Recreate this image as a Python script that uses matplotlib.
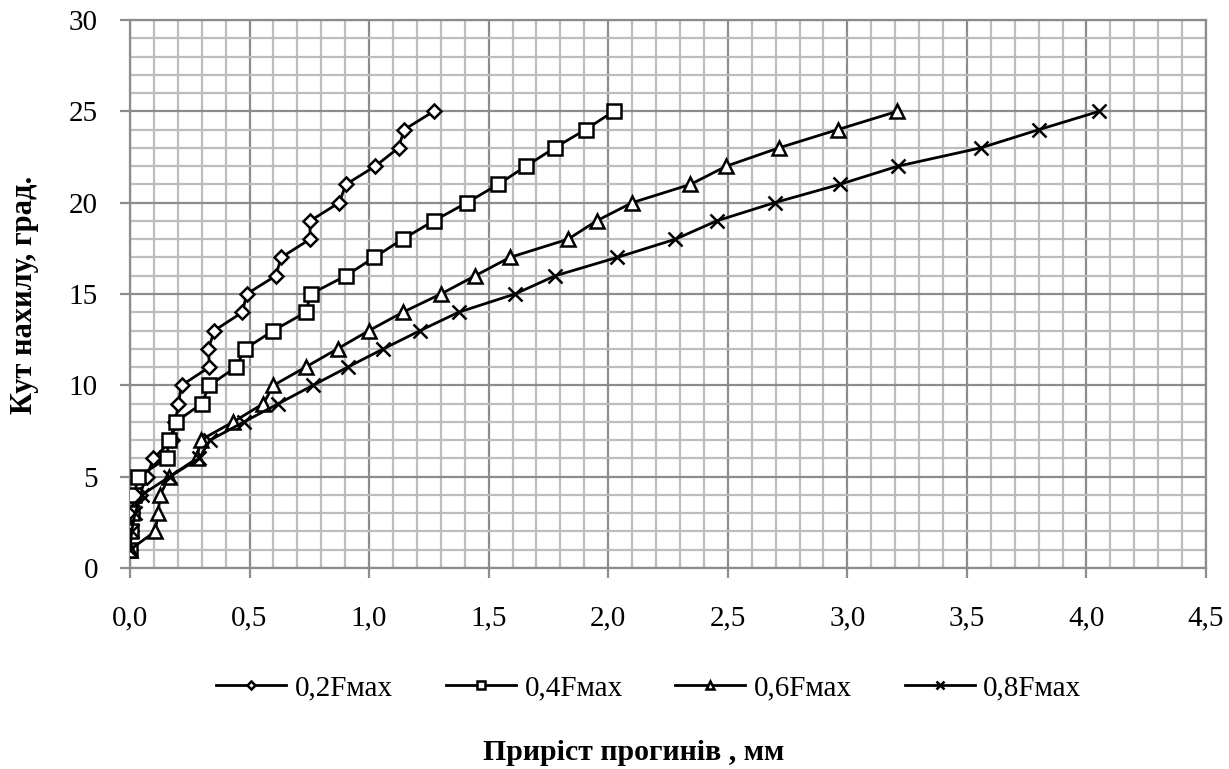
import matplotlib
matplotlib.use("Agg")
import matplotlib.pyplot as plt
from matplotlib.ticker import MultipleLocator, FuncFormatter

angle = list(range(1, 26))

s02 = [0.0, 0.005, 0.01, 0.04, 0.07, 0.098, 0.175, 0.19, 0.202, 0.216, 0.332, 0.328, 0.353,
       0.47, 0.488, 0.61, 0.632, 0.753, 0.753, 0.875, 0.903, 1.026, 1.123, 1.147, 1.27]
s04 = [0.0, 0.004, 0.007, 0.017, 0.035, 0.153, 0.164, 0.192, 0.30, 0.332, 0.444, 0.481, 0.6,
       0.735, 0.756, 0.903, 1.021, 1.14, 1.27, 1.409, 1.54, 1.656, 1.776, 1.905, 2.023]
s06 = [0.0, 0.105, 0.118, 0.126, 0.165, 0.28, 0.295, 0.432, 0.558, 0.6, 0.735, 0.868, 1.0,
       1.141, 1.30, 1.444, 1.588, 1.832, 1.951, 2.10, 2.344, 2.494, 2.714, 2.96, 3.209]
s08 = [0.0, 0.007, 0.021, 0.049, 0.166, 0.289, 0.335, 0.477, 0.621, 0.765, 0.911, 1.06, 1.214,
       1.374, 1.61, 1.779, 2.037, 2.281, 2.453, 2.696, 2.968, 3.212, 3.558, 3.802, 4.053]

labels = ["0,2Fмах", "0,4Fмах", "0,6Fмах", "0,8Fмах"]
series = [s02, s04, s06, s08]
markers = ["D", "s", "^", "x"]
msizes = [7, 9.5, 9.5, 9.5]

plt.rcParams['font.family'] = ['Liberation Serif', 'DejaVu Serif']

fig = plt.figure(figsize=(12.29, 7.69), dpi=100)
ax = fig.add_axes([130/1229, 1-568/769, (1206-130)/1229, (568-20)/769])

ax.set_xlim(0, 4.5)
ax.set_ylim(0, 30)
ax.xaxis.set_major_locator(MultipleLocator(0.5))
ax.xaxis.set_minor_locator(MultipleLocator(0.1))
ax.yaxis.set_major_locator(MultipleLocator(5))
ax.yaxis.set_minor_locator(MultipleLocator(1))
ax.xaxis.set_major_formatter(FuncFormatter(lambda v, p: f"{v:.1f}".replace(".", ",")))
ax.yaxis.set_major_formatter(FuncFormatter(lambda v, p: f"{int(round(v))}"))

ax.grid(which="minor", color="#bdbdbd", linewidth=1.6, zorder=0)
ax.grid(which="major", color="#8c8c8c", linewidth=1.6, zorder=0)
ax.set_axisbelow(True)
for sp in ax.spines.values():
    sp.set_color("#8c8c8c")
    sp.set_linewidth(1.6)
ax.tick_params(which="major", length=7, width=1.6, color="#8c8c8c", labelsize=21)
ax.tick_params(axis="y", pad=16)
ax.tick_params(axis="x", pad=20)
ax.tick_params(which="minor", length=0)

for y, lab, m, ms in zip(series, labels, markers, msizes):
    mfc = "none" if m == "x" else "white"
    ax.plot(y, angle, color="black", linewidth=2.0, marker=m, markersize=ms,
            markerfacecolor=mfc, markeredgecolor="black", markeredgewidth=1.8,
            label=lab, zorder=3)

fig.text(25/1229, 1-295/769, "Кут нахилу, град.", rotation=90, ha="center", va="center",
         fontsize=22, fontweight="bold")
fig.text(634/1229, 1-752/769, "Приріст прогинів , мм", ha="center", va="center",
         fontsize=21.5, fontweight="bold")

leg = fig.legend(loc="center", bbox_to_anchor=(649/1229, 1-688/769), ncol=4, frameon=False,
                 fontsize=21, handlelength=2.4, handletextpad=0.3, columnspacing=1.8,
                 markerscale=0.6)

fig.savefig("out.png", dpi=100)
